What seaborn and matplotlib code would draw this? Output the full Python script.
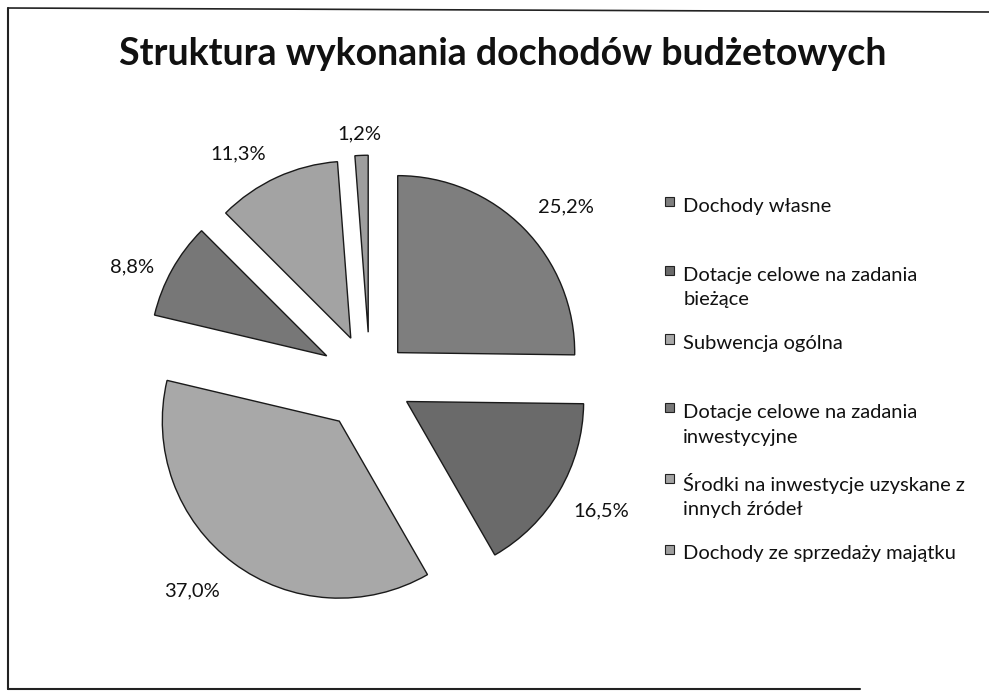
import numpy as np
import matplotlib
matplotlib.use("Agg")
import matplotlib.pyplot as plt
import seaborn as sns
from matplotlib.lines import Line2D
from matplotlib.patches import Rectangle, Patch
from matplotlib.legend_handler import HandlerPatch

# ---- data ----
categories = [
    "Dochody własne",
    "Dotacje celowe na zadania bieżące",
    "Subwencja ogólna",
    "Dotacje celowe na zadania inwestycyjne",
    "Środki na inwestycje uzyskane z innych źródeł",
    "Dochody ze sprzedaży majątku",
]
legend_labels = [
    "Dochody własne",
    "Dotacje celowe na zadania\nbieżące",
    "Subwencja ogólna",
    "Dotacje celowe na zadania\ninwestycyjne",
    "Środki na inwestycje uzyskane z\ninnych źródeł",
    "Dochody ze sprzedaży majątku",
]
values = [25.2, 16.5, 37.0, 8.8, 11.3, 1.2]
title = "Struktura wykonania dochodów budżetowych"

# ---- style ----
colors = ["#7e7e7e", "#6a6a6a", "#a8a8a8", "#777777", "#a3a3a3", "#9e9e9e"]
explode = [0.22, 0.24, 0.29, 0.28, 0.26, 0.27]
label_dist = [1.26, 1.26, 1.27, 1.21, 1.22, 1.12]
label_ang_shift = [-3.8, 1.2, -4.3, 4.5, 6.7, 0.4]

sns.set_theme(style="white")
plt.rcParams["font.family"] = ["Lato", "DejaVu Sans"]

W, H = 989, 693
fig = plt.figure(figsize=(W / 100, H / 100), dpi=100)
fig.patch.set_facecolor("white")

# pie axes: centre (370, 380) px from top, radius 177 px
R = 177
cx, cy = 370, 380
half = 1.5 * R
ax = fig.add_axes([(cx - half) / W, (H - cy - half) / H, 2 * half / W, 2 * half / H])

def fmt(p):
    return f"{p:.1f}%".replace(".", ",")

wedges, texts, autotexts = ax.pie(
    values,
    startangle=90,
    counterclock=False,
    explode=explode,
    colors=colors,
    autopct=fmt,
    pctdistance=1.25,
    wedgeprops=dict(edgecolor="#1a1a1a", linewidth=1.0),
    textprops=dict(fontsize=14.5, color="#111111"),
)
for w, t, d, s in zip(wedges, autotexts, label_dist, label_ang_shift):
    ang = np.deg2rad((w.theta1 + w.theta2) / 2 + s)
    wx, wy = w.center
    t.set_position((wx + d * w.r * np.cos(ang), wy + d * w.r * np.sin(ang)))
    t.set_ha("center")
    t.set_va("center")
ax.set_xlim(-1.5, 1.5)
ax.set_ylim(-1.5, 1.5)
ax.set_aspect("equal")
ax.axis("off")

# title
fig.text(503 / W, 1 - 65 / H, title, ha="center", va="baseline",
         fontsize=27, fontweight="bold", color="#111111")

# legend with square aligned to first line
class TopSquare(HandlerPatch):
    def __init__(self, size, yoff, **kw):
        super().__init__(**kw)
        self.size = size
        self.yoff = yoff

    def create_artists(self, legend, orig_handle, xdescent, ydescent,
                       width, height, fontsize, trans):
        p = Rectangle((-xdescent + width - self.size, self.yoff), self.size, self.size,
                      facecolor=orig_handle.get_facecolor(),
                      edgecolor="#222222", linewidth=0.8, transform=trans)
        return [p]

handles = [Patch(facecolor=c) for c in colors]
labels2 = [l if "\n" in l else l + "\n " for l in legend_labels]
leg = fig.legend(
    handles, labels2,
    loc="upper left",
    bbox_to_anchor=(664 / W, 1 - 198 / H),
    frameon=False,
    fontsize=14.5,
    handlelength=0.5,
    handletextpad=0.45,
    labelspacing=1.34,
    borderpad=0,
    borderaxespad=0,
    handler_map={Patch: TopSquare(size=6.5, yoff=14.2)},
)
for t in leg.get_texts():
    t.set_color("#111111")
    t.set_linespacing(1.55)

# frame lines (scanned border)
fig.add_artist(Line2D([8 / W, 8 / W], [1 - 8 / H, 1 - 689 / H], color="#222222", lw=1.5))
fig.add_artist(Line2D([8 / W, 1.0], [1 - 8 / H, 1 - 12 / H], color="#222222", lw=1.2))
fig.add_artist(Line2D([8 / W, 0.87], [1 - 689 / H, 1 - 689 / H], color="#222222", lw=1.5))

fig.savefig("out.png", dpi=100, facecolor="white")
